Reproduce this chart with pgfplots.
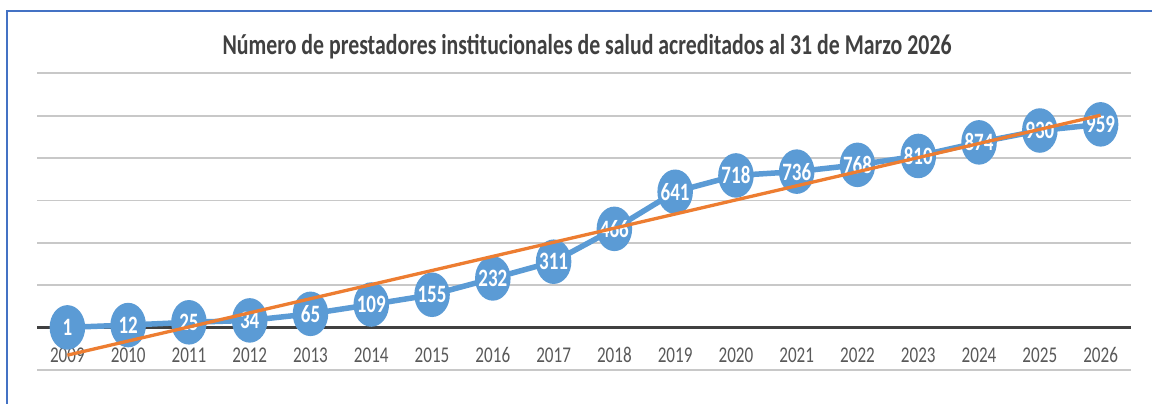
\documentclass[border=0pt]{standalone}
\usepackage{pgfplots}
\pgfplotsset{compat=1.18}
\usepackage{fontspec}
\setmainfont{Carlito}
\newfontfamily\cfont[FakeStretch=0.76]{Carlito}
\definecolor{serblue}{HTML}{5B9BD5}
\definecolor{trendor}{HTML}{ED7D31}
\definecolor{framebl}{HTML}{4472C4}
\definecolor{titlegr}{HTML}{404040}
\definecolor{tickgr}{HTML}{595959}
\definecolor{gridgr}{HTML}{C8C8C8}
\pgfplotsset{geom/.style={at={(37pt,34pt)}, anchor=south west,
  scale only axis, width=1094pt, height=296.7pt,
  xmin=2008.5, xmax=2026.5, ymin=-200, ymax=1200, clip=false}}
\begin{document}
\begin{tikzpicture}[x=1pt,y=1pt]
\useasboundingbox (0,0) rectangle (1152,404);
\fill[white] (0,0) rectangle (1152,404);
\draw[framebl, line width=2pt] (7,-5) -- (7,393) -- (1160,393);
\node[anchor=base, text=titlegr, font=\cfont\bfseries\fontsize{28.7}{31}\selectfont] at (587,349) {Número de prestadores institucionales de salud acreditados al 31 de Marzo 2026};
\begin{axis}[
  geom,
  axis line style={draw=none},
  tick style={draw=none},
  xtick={2009,2010,2011,2012,2013,2014,2015,2016,2017,2018,2019,2020,2021,2022,2023,2024,2025,2026},
  xticklabels={2009,2010,2011,2012,2013,2014,2015,2016,2017,2018,2019,2020,2021,2022,2023,2024,2025,2026},
  xticklabel pos=lower,
  xticklabel style={anchor=center, yshift=15pt, text=tickgr, font=\cfont\fontsize{22.5}{24}\selectfont},
  ytick={-200,200,400,600,800,1000,1200},
  yticklabels={},
  ymajorgrids,
  grid style={gridgr, line width=1.8pt},
  extra y ticks={0},
  extra y tick labels={},
  extra y tick style={grid style={titlegr, line width=3pt}},
]
\addplot[serblue, line width=5.5pt, mark=*, mark size=15pt,
  mark options={fill=serblue, draw=none, yscale=1.3},
  point meta=explicit symbolic,
  nodes near coords,
  every node near coord/.append style={anchor=center, text=white, font=\cfont\bfseries\fontsize{25}{27}\selectfont, inner sep=0pt}]
  coordinates {
  (2009,1) [1]
  (2010,12) [12]
  (2011,25) [25]
  (2012,34) [34]
  (2013,65) [65]
  (2014,109) [109]
  (2015,155) [155]
  (2016,232) [232]
  (2017,311) [311]
  (2018,466) [466]
  (2019,641) [641]
  (2020,718) [718]
  (2021,736) [736]
  (2022,768) [768]
  (2023,810) [810]
  (2024,874) [874]
  (2025,930) [930]
  (2026,959) [959]
  };
\end{axis}
\begin{axis}[geom, hide axis]
\addplot[trendor, line width=3.3pt, no marks] coordinates {(2009,-130) (2026,1002)};
\end{axis}
\end{tikzpicture}
\end{document}
